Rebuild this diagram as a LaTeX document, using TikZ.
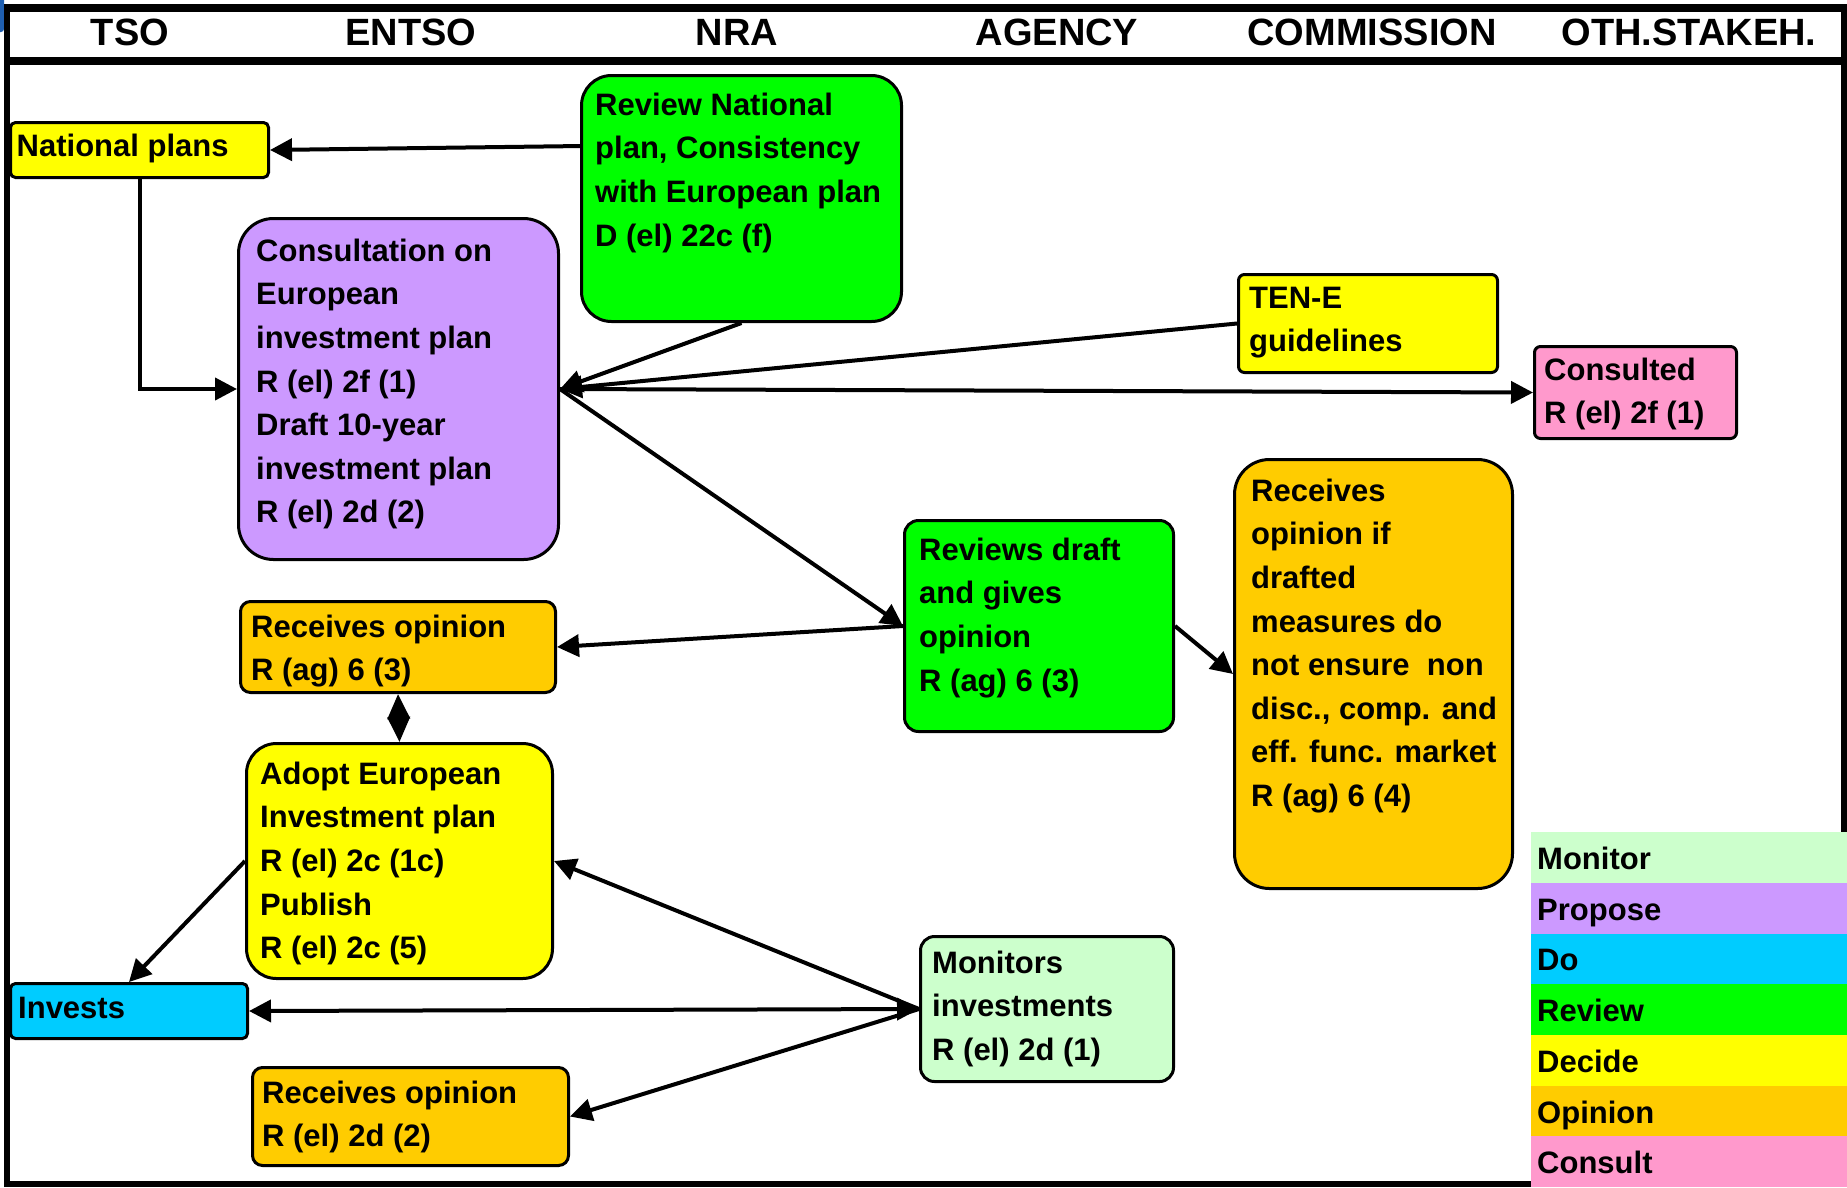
\documentclass[tikz,border=0pt]{standalone}
\usepackage{fontspec}
\setmainfont{Liberation Sans}
\usetikzlibrary{arrows.meta, positioning, calc}
\definecolor{decideyellow}{HTML}{FFFF00}
\definecolor{reviewgreen}{HTML}{00FF00}
\definecolor{proposeviolet}{HTML}{CC99FF}
\definecolor{opinionorange}{HTML}{FFCC00}
\definecolor{consultpink}{HTML}{FF99CC}
\definecolor{doblue}{HTML}{00CCFF}
\definecolor{monitorgreen}{HTML}{CCFFCC}
\definecolor{sliverblue}{HTML}{1F5FB0}
\newcommand{\boxfont}{\fontsize{31}{43.6}\selectfont\bfseries}
\newcommand{\headfont}{\fontsize{38}{44}\selectfont\bfseries}
\tikzset{
  task/.style={draw, line width=3pt, anchor=north west, inner sep=0pt},
  txt/.style={anchor=north west, align=left, font=\boxfont},
  flow/.style={line width=4pt, -{Triangle[length=22pt,width=22pt]}},
  twoway/.style={line width=4pt, {Triangle[length=22pt,width=22pt]}-{Triangle[length=22pt,width=22pt]}},
  legend/.style={anchor=north west, inner sep=0pt, minimum width=316pt, minimum height=50.7pt, text width=304pt, text height=24pt, text depth=0pt, align=left, font=\boxfont},
  head/.style={anchor=base, font=\headfont},
}

\begin{document}
\begin{tikzpicture}[x=1pt, y=-1pt]
	\useasboundingbox (0,0) rectangle (1847,1187);
	\fill[sliverblue, rounded corners=3pt] (-3,-3) rectangle (4,32);
	% frame and header
	\draw[line width=6pt] (7,8) -- (7,1184) -- (1531,1184);
	\draw[line width=6pt] (1844,8) -- (1844,832);
	\draw[line width=8pt] (4,8) -- (1847,8);
	\draw[line width=8pt] (4,61) -- (1847,61);
	\node[head] (htso) at (130,45) {TSO};
	\node[head] (hentso) at (411,45) {ENTSO};
	\node[head] (hnra) at (737,45) {NRA};
	\node[head] (hagency) at (1057,45) {AGENCY};
	\node[head] (hcomm) at (1372,45) {COMMISSION};
	\node[head] (hother) at (1689,45) {OTH.STAKEH.};
	
	% boxes
	\node[task, fill=decideyellow, rounded corners=5pt, minimum width=258pt, minimum height=55pt,
		label={[txt, inner xsep=7.5pt, inner ysep=4.5pt]north west:{\strut National plans}}] (natplans) at (9,121) {};
	\node[task, fill=reviewgreen, rounded corners=30pt, minimum width=320pt, minimum height=246pt,
		label={[txt, inner xsep=15pt, inner ysep=10.5pt]north west:{\strut Review National\\plan, Consistency\\with European plan\\D (el) 22c (f)}}] (review) at (580,74) {};
	\node[task, fill=proposeviolet, rounded corners=35pt, minimum width=320pt, minimum height=341pt,
		label={[txt, inner xsep=19pt, inner ysep=13.5pt]north west:{\strut Consultation on\\European\\investment plan\\R (el) 2f (1)\\Draft 10-year\\investment plan\\R (el) 2d (2)}}] (consult) at (237,217) {};
	\node[task, fill=decideyellow, rounded corners=6pt, minimum width=259pt, minimum height=98pt,
		label={[txt, inner xsep=12pt, inner ysep=4.5pt]north west:{\strut TEN-E\\guidelines}}] (tene) at (1237,273) {};
	\node[task, fill=consultpink, rounded corners=6pt, minimum width=202pt, minimum height=92pt,
		label={[txt, inner xsep=11pt, inner ysep=4.5pt]north west:{\strut Consulted\\R (el) 2f (1)}}] (consulted) at (1533,345) {};
	\node[task, fill=opinionorange, rounded corners=35pt, minimum width=278pt, minimum height=429pt,
		label={[txt, inner xsep=18pt, inner ysep=12.5pt]north west:{\strut Receives\\opinion if\\drafted\\measures do\\not ensure\ \ non\\disc., comp. and\\eff. func. market\\R (ag) 6 (4)}}] (recopif) at (1233,458) {};
	\node[task, fill=reviewgreen, rounded corners=14pt, minimum width=269pt, minimum height=211pt,
		label={[txt, inner xsep=16pt, inner ysep=10.5pt]north west:{\strut Reviews draft\\and gives\\opinion\\R (ag) 6 (3)}}] (reviews) at (903,519) {};
	\node[task, fill=opinionorange, rounded corners=10pt, minimum width=315pt, minimum height=91pt,
		label={[txt, inner xsep=12pt, inner ysep=6.5pt]north west:{\strut Receives opinion\\R (ag) 6 (3)}}] (recopag) at (239,600) {};
	\node[task, fill=decideyellow, rounded corners=30pt, minimum width=306pt, minimum height=235pt,
		label={[txt, inner xsep=15pt, inner ysep=11.5pt]north west:{\strut Adopt European\\Investment plan\\R (el) 2c (1c)\\Publish\\R (el) 2c (5)}}] (adopt) at (245,742) {};
	\node[task, fill=doblue, rounded corners=5pt, minimum width=237pt, minimum height=55pt,
		label={[txt, inner xsep=9pt, inner ysep=5.5pt]north west:{\strut Invests}}] (invests) at (9,982) {};
	\node[task, fill=monitorgreen, rounded corners=14pt, minimum width=253pt, minimum height=145pt,
		label={[txt, inner xsep=13pt, inner ysep=7.5pt]north west:{\strut Monitors\\investments\\R (el) 2d (1)}}] (monitors) at (919,935) {};
	\node[task, fill=opinionorange, rounded corners=10pt, minimum width=316pt, minimum height=98pt,
		label={[txt, inner xsep=11pt, inner ysep=6.5pt]north west:{\strut Receives opinion\\R (el) 2d (2)}}] (recopel) at (251,1066) {};
	
	% connectors
	\draw[flow] (review.162) -- (natplans.east);
	\draw[flow] (natplans.south) |- (consult.west);
	\draw[flow] (review.south) -- (consult.east);
	\draw[flow] (tene.west) -- (consult.east);
	\draw[flow] (consult.east) -- (consulted.west);
	\draw[flow] (consult.east) -- (reviews.west);
	\draw[flow] (reviews.west) -- (recopag.east);
	\draw[flow] (reviews.east) -- (recopif.west);
	\draw[line width=4pt, {Triangle[length=25pt,width=22pt]}-{Triangle[length=25pt,width=22pt]}] (recopag.south) -- (adopt.north);
	\draw[flow] (adopt.west) -- (invests.north);
	\draw[flow] (monitors.west) -- (adopt.east);
	\draw[twoway] (invests.east) -- (monitors.west);
	\draw[flow] (monitors.west) -- (recopel.east);
	
	% legend
	\node[legend, fill=monitorgreen] (lgmonitor) at (1531,832) {Monitor};
	\node[legend, fill=proposeviolet] (lgpropose) at (1531,882.7) {Propose};
	\node[legend, fill=doblue] (lgdo) at (1531,933.4) {Do};
	\node[legend, fill=reviewgreen] (lgreview) at (1531,984.1) {Review};
	\node[legend, fill=decideyellow] (lgdecide) at (1531,1034.8) {Decide};
	\node[legend, fill=opinionorange] (lgopinion) at (1531,1085.5) {Opinion};
	\node[legend, fill=consultpink] (lgconsult) at (1531,1136.2) {Consult};
\end{tikzpicture}
\end{document}
